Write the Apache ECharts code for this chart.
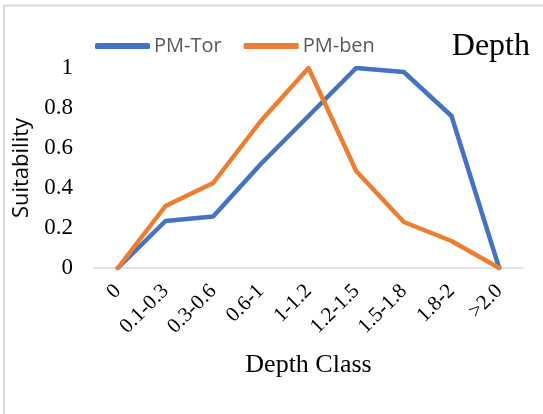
<!DOCTYPE html>
<html>
<head>
<meta charset="utf-8">
<script src="https://cdn.jsdelivr.net/npm/echarts@6/dist/echarts.min.js"></script>
<style>
  html, body { margin: 0; padding: 0; background: #fff; }
  #chart { width: 543px; height: 414px; }
</style>
</head>
<body>
<div id="chart"></div>
<script>
// Depth classes on the x axis
const categories = ['0', '0.1-0.3', '0.3-0.6', '0.6-1', '1-1.2', '1.2-1.5', '1.5-1.8', '1.8-2', '>2.0'];
// Suitability per depth class
const pmTor = [0, 0.235, 0.257, 0.52, 0.76, 1.0, 0.98, 0.76, 0];
const pmBen = [0, 0.31, 0.425, 0.735, 1.0, 0.485, 0.23, 0.135, 0];
const yTicks = [0, 0.2, 0.4, 0.6, 0.8, 1];

const chart = echarts.init(document.getElementById('chart'));
const serif = '"Liberation Serif", "Times New Roman", serif';
const sans = '"Open Sans", "Liberation Sans", sans-serif';

chart.setOption({
  animation: false,
  backgroundColor: '#fff',
  title: {
    text: 'Depth',
    right: 8,
    top: 26,
    textStyle: { fontFamily: serif, fontSize: 32, fontWeight: 'normal', color: '#000' }
  },
  legend: {
    left: 90,
    top: 31,
    itemWidth: 55,
    itemHeight: 6,
    itemGap: 22,
    icon: 'roundRect',
    textStyle: { fontFamily: sans, fontSize: 20, color: '#595959', padding: [0, 0, 0, -1] },
    data: ['PM-Tor', 'PM-ben']
  },
  grid: { left: 94, right: 20, top: 68, bottom: 146, containLabel: false },
  xAxis: {
    type: 'category',
    data: categories,
    boundaryGap: true,
    name: 'Depth Class',
    nameLocation: 'middle',
    nameGap: 84,
    nameTextStyle: { fontFamily: serif, fontSize: 26, color: '#000' },
    axisLine: { lineStyle: { color: '#d9d9d9', width: 1.5 } },
    axisTick: { show: false },
    axisLabel: {
      rotate: 45,
      margin: 20,
      fontFamily: serif,
      fontSize: 21,
      color: '#000'
    }
  },
  yAxis: {
    type: 'value',
    min: 0,
    max: 1,
    interval: 0.2,
    name: 'Suitability',
    nameLocation: 'middle',
    nameGap: 61,
    nameTextStyle: { fontFamily: sans, fontSize: 22, color: '#000' },
    axisLine: { show: false },
    axisTick: { show: false },
    splitLine: { show: false },
    axisLabel: {
      margin: 21,
      fontFamily: serif,
      fontSize: 23,
      color: '#000',
      formatter: v => {
        const t = yTicks.find(x => Math.abs(x - v) < 1e-9);
        return t === undefined ? '' : String(t);
      }
    }
  },
  series: [
    {
      name: 'PM-Tor',
      type: 'line',
      data: pmTor,
      symbol: 'none',
      color: '#4472C4',
      lineStyle: { width: 4.5, color: '#4472C4', cap: 'round', join: 'round' }
    },
    {
      name: 'PM-ben',
      type: 'line',
      data: pmBen,
      symbol: 'none',
      color: '#ED7D31',
      lineStyle: { width: 4.5, color: '#ED7D31', cap: 'round', join: 'round' }
    }
  ],
  graphic: [
    { type: 'line', shape: { x1: 4, y1: 5.5, x2: 543, y2: 5.5 }, style: { stroke: '#d9d9d9', lineWidth: 2 }, silent: true },
    { type: 'line', shape: { x1: 4, y1: 5, x2: 4, y2: 414 }, style: { stroke: '#d9d9d9', lineWidth: 2 }, silent: true }
  ]
});
</script>
</body>
</html>
